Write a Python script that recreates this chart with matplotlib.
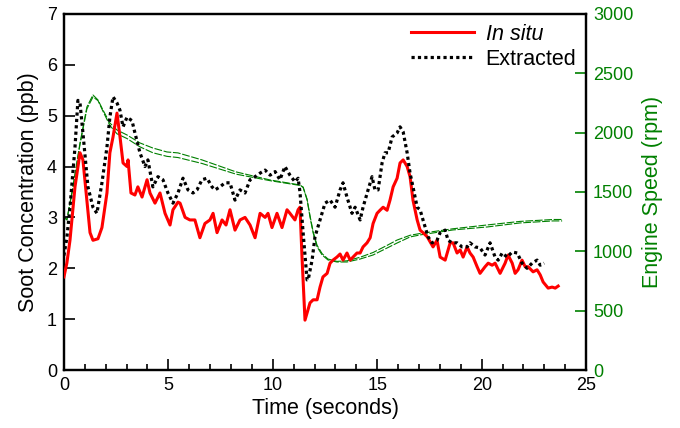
import numpy as np
import matplotlib
matplotlib.use("Agg")
import matplotlib.pyplot as plt
from matplotlib.ticker import MultipleLocator

plt.rcParams['font.family'] = ['Liberation Sans', 'DejaVu Sans']

# In situ soot concentration (ppb)
insitu_t = [0.00, 0.14, 0.29, 0.53, 0.77, 0.91, 1.10, 1.25, 1.39, 1.63, 1.82, 2.06, 2.20, 2.35,
            2.54, 2.68, 2.83, 3.02, 3.07, 3.21, 3.40, 3.54, 3.74, 3.98, 4.12, 4.36, 4.60, 4.84,
            5.08, 5.22, 5.46, 5.56, 5.80, 6.03, 6.27, 6.51, 6.75, 6.99, 7.14, 7.33, 7.57, 7.76,
            7.95, 8.19, 8.43, 8.67, 8.91, 9.15, 9.39, 9.63, 9.77, 9.96, 10.20, 10.44, 10.68, 10.82,
            11.06, 11.21, 11.30, 11.40, 11.54, 11.78, 11.93, 12.12, 12.26, 12.40, 12.60, 12.74,
            12.88, 13.07, 13.22, 13.36, 13.55, 13.70, 13.84, 14.03, 14.18, 14.32, 14.51, 14.66,
            14.80, 14.99, 15.13, 15.28, 15.47, 15.61, 15.76, 15.95, 16.09, 16.24, 16.43, 16.57,
            16.71, 16.91, 17.05, 17.19, 17.39, 17.67, 17.86, 18.01, 18.25, 18.49, 18.63, 18.82,
            18.97, 19.11, 19.30, 19.44, 19.59, 19.78, 19.92, 20.16, 20.31, 20.50, 20.64, 20.88,
            21.12, 21.26, 21.46, 21.60, 21.74, 21.93, 22.08, 22.22, 22.46, 22.65, 22.80, 22.94,
            23.18, 23.37, 23.52, 23.66]
insitu = [1.83, 2.10, 2.55, 3.60, 4.27, 4.13, 3.34, 2.70, 2.55, 2.58, 2.80, 3.48, 4.27, 4.58,
          5.05, 4.60, 4.07, 4.00, 4.13, 3.48, 3.44, 3.60, 3.40, 3.74, 3.48, 3.28, 3.48, 3.08,
          2.85, 3.15, 3.30, 3.28, 3.00, 2.95, 2.95, 2.60, 2.88, 2.95, 3.08, 2.70, 2.95, 2.85,
          3.15, 2.75, 2.95, 3.00, 2.85, 2.60, 3.08, 3.00, 3.08, 2.80, 3.08, 2.80, 3.15, 3.08,
          2.95, 3.15, 3.20, 2.20, 0.98, 1.32, 1.38, 1.38, 1.63, 1.83, 1.90, 2.10,
          2.16, 2.22, 2.28, 2.16, 2.30, 2.16, 2.22, 2.30, 2.30, 2.42, 2.50, 2.60,
          2.88, 3.08, 3.14, 3.20, 3.14, 3.34, 3.60, 3.77, 4.07, 4.13, 4.00, 3.80,
          3.34, 2.95, 2.75, 2.70, 2.62, 2.42, 2.55, 2.22, 2.16, 2.50, 2.50, 2.30,
          2.36, 2.22, 2.42, 2.30, 2.22, 2.03, 1.90, 2.03, 2.10, 2.06, 2.10, 1.90,
          2.10, 2.26, 2.10, 1.90, 1.97, 2.16, 2.03, 2.03, 1.93, 1.97, 1.87, 1.73,
          1.61, 1.63, 1.61, 1.65]

# Extracted soot concentration (ppb)
extr_t = [0.00, 0.14, 0.29, 0.53, 0.67, 0.77, 0.91, 1.15, 1.39, 1.58, 1.82, 2.06, 2.20, 2.35,
          2.54, 2.68, 2.83, 3.02, 3.26, 3.40, 3.64, 3.88, 4.02, 4.26, 4.50, 4.74, 4.98, 5.22,
          5.46, 5.70, 5.94, 6.18, 6.37, 6.61, 6.85, 7.09, 7.23, 7.47, 7.71, 7.95, 8.19, 8.43,
          8.67, 8.91, 9.15, 9.39, 9.63, 9.87, 10.11, 10.34, 10.58, 10.82, 11.06, 11.21, 11.30,
          11.45, 11.64, 11.69, 11.88, 12.02, 12.26, 12.50, 12.74, 12.98, 13.22, 13.36, 13.55,
          13.79, 13.94, 14.18, 14.32, 14.56, 14.75, 14.89, 15.04, 15.23, 15.37, 15.52, 15.71,
          15.95, 16.09, 16.24, 16.43, 16.57, 16.71, 16.91, 17.05, 17.19, 17.43, 17.62, 17.86,
          18.01, 18.25, 18.39, 18.58, 18.82, 19.06, 19.30, 19.44, 19.68, 19.92, 20.16, 20.40,
          20.64, 20.79, 20.98, 21.22, 21.46, 21.70, 21.93, 22.17, 22.41, 22.65, 22.80, 22.99]
extracted = [2.25, 2.60, 3.20, 4.38, 5.30, 5.25, 4.66, 3.60, 3.20, 3.08, 3.68, 4.38, 4.97, 5.37,
             5.25, 5.11, 4.78, 4.97, 4.90, 4.66, 4.27, 4.00, 4.13, 3.60, 3.80, 3.74, 3.48, 3.28,
             3.48, 3.77, 3.54, 3.48, 3.54, 3.74, 3.77, 3.60, 3.54, 3.60, 3.68, 3.68, 3.34, 3.54,
             3.48, 3.74, 3.80, 3.87, 3.93, 3.83, 3.90, 3.74, 4.00, 3.83, 3.70, 3.77, 3.50,
             2.70, 1.77, 1.77, 2.16, 2.62, 2.95, 3.28, 3.34, 3.20, 3.54, 3.68, 3.40,
             3.08, 3.20, 2.95, 3.20, 3.54, 3.80, 3.54, 3.54, 4.07, 4.27, 4.27, 4.58,
             4.66, 4.78, 4.68, 4.27, 3.87, 3.60, 3.20, 3.15, 2.95, 2.62, 2.50, 2.55,
             2.70, 2.75, 2.55, 2.50, 2.50, 2.42, 2.42, 2.50, 2.42, 2.40, 2.26, 2.50,
             2.22, 2.16, 2.30, 2.22, 2.32, 2.30, 2.10, 2.00, 2.10, 2.16, 2.06, 2.10]

# Engine speed (rpm), two traces
rpm_t = [0.00, 0.14, 0.43, 0.77, 1.10, 1.39, 1.63, 1.87, 2.20, 2.54, 3.02, 3.64, 4.26, 4.93,
         5.46, 6.61, 8.24, 9.87, 11.30, 11.45, 11.64, 11.78, 11.93, 12.12, 12.36, 12.64, 13.07,
         13.55, 14.18, 14.80, 15.47, 15.95, 16.57, 17.05, 18.63, 20.26, 21.84, 23.42, 23.85]
rpm_a = [1290, 1265, 1542, 1913, 2216, 2317, 2275, 2190, 2081, 2022, 1980, 1913, 1870, 1837,
         1829, 1770, 1669, 1601, 1559, 1540, 1433, 1290, 1155, 1037, 969, 927, 910,
         910, 935, 969, 1028, 1070, 1121, 1138, 1180, 1205, 1239, 1256, 1256]
rpm_b = [1290, 1265, 1530, 1900, 2200, 2300, 2270, 2180, 2060, 1990, 1950, 1880, 1830, 1800,
         1790, 1740, 1650, 1595, 1555, 1540, 1440, 1300, 1165, 1050, 980, 935, 915,
         920, 950, 990, 1050, 1095, 1135, 1150, 1190, 1222, 1252, 1268, 1268]

fig = plt.figure(figsize=(6.8, 4.28), dpi=100)
ax = fig.add_axes([0.094, 0.1355, 0.768, 0.832])
ax2 = ax.twinx()

green = '#008000'
ax2.plot(rpm_t, rpm_a, color=green, lw=0.8, ls=(0, (7, 1.5)))
ax2.plot(rpm_t, rpm_b, color=green, lw=0.8, ls=(0, (7, 1.5)))

ax.plot(insitu_t, insitu, color='red', lw=2.2, label='In situ', zorder=3)
ax.plot(extr_t, extracted, color='black', lw=2.3, ls=(0, (1, 1)), label='Extracted', zorder=4)
ax.set_zorder(ax2.get_zorder() + 1)
ax.patch.set_visible(False)

ax.set_xlim(0, 25)
ax.set_ylim(0, 7)
ax2.set_ylim(0, 3000)
ax.xaxis.set_major_locator(MultipleLocator(5))
ax.xaxis.set_minor_locator(MultipleLocator(1))
ax.yaxis.set_major_locator(MultipleLocator(1))
ax2.yaxis.set_major_locator(MultipleLocator(500))

ax.tick_params(axis='both', which='major', direction='in', length=8, width=1.2, labelsize=13, pad=5)
ax.tick_params(axis='x', which='minor', direction='in', length=4, width=1.2)
ax2.tick_params(axis='y', direction='in', length=8, width=1.2, color=green,
                labelcolor=green, labelsize=13, pad=5)

for sp in ax.spines.values():
    sp.set_linewidth(1.6)
for sp in ax2.spines.values():
    sp.set_linewidth(1.6)

ax.set_xlabel('Time (seconds)', fontsize=15.5, labelpad=3)
ax.set_ylabel('Soot Concentration (ppb)', fontsize=15.5, labelpad=6)
ax2.set_ylabel('Engine Speed (rpm)', fontsize=15.5, color=green, labelpad=6)

leg = ax.legend(loc='upper right', frameon=False, fontsize=15.5, handlelength=2.9,
                handletextpad=0.55, borderaxespad=0.15, borderpad=0.3, labelspacing=0.2)
leg.get_texts()[0].set_fontstyle('italic')

fig.savefig('out.png', dpi=100)
